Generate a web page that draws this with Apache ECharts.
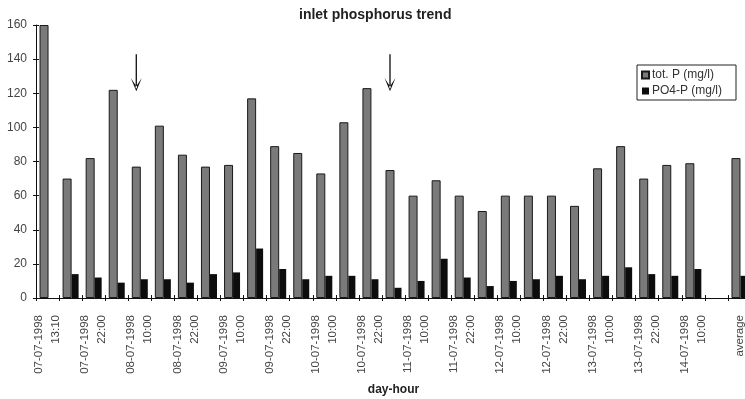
<!DOCTYPE html>
<html>
<head>
<meta charset="utf-8">
<script src="https://cdn.jsdelivr.net/npm/echarts@6/dist/echarts.min.js"></script>
<style>
  html, body { margin: 0; padding: 0; background: #fff; }
  #chart { width: 745px; height: 399px; }
</style>
</head>
<body>
<div id="chart"></div>
<script>
// categories (only every other one is labelled in the original)
const categories = [
  '07-07-1998\n13:10', '', '07-07-1998\n22:00', '', '08-07-1998\n10:00', '',
  '08-07-1998\n22:00', '', '09-07-1998\n10:00', '', '09-07-1998\n22:00', '',
  '10-07-1998\n10:00', '', '10-07-1998\n22:00', '', '11-07-1998\n10:00', '',
  '11-07-1998\n22:00', '', '12-07-1998\n10:00', '', '12-07-1998\n22:00', '',
  '13-07-1998\n10:00', '', '13-07-1998\n22:00', '', '14-07-1998\n10:00', '',
  'average'
];

const totP = [160, 70, 82, 122, 77, 101, 84, 77, 78, 117, 89, 85, 73, 103, 123,
  75, 60, 69, 60, 51, 60, 60, 60, 54, 76, 89, 70, 78, 79, null, 82];

const po4P = [null, 14, 12, 9, 11, 11, 9, 14, 15, 29, 17, 11, 13, 13, 11,
  6, 10, 23, 12, 7, 10, 11, 13, 11, 13, 18, 14, 13, 17, null, 13];

// arrows drawn above these categories
const arrowCats = [4, 15];
const arrowLevel = 132;

const yTicks = [0, 20, 40, 60, 80, 100, 120, 140, 160];

const chart = echarts.init(document.getElementById('chart'));

const arrowPath = 'path://M4.4,0 L5.6,0 L5.6,33 L4.4,33 Z M0,23 L5,36 L10,23 L5,31 Z';

const option = {
  animation: false,
  textStyle: { fontFamily: 'Liberation Sans, Arial, sans-serif' },
  title: {
    text: 'inlet phosphorus trend',
    left: 294,
    top: 3,
    textStyle: { fontSize: 14, fontWeight: 'bold', color: '#222' }
  },
  legend: {
    orient: 'vertical',
    left: 637,
    top: 65,
    padding: [4, 14, 3, 4],
    itemGap: 4,
    itemWidth: 7,
    itemHeight: 7,
    borderColor: '#222',
    borderWidth: 1,
    icon: 'rect',
    textStyle: { fontSize: 12, color: '#333', padding: [0, 0, 0, -2] },
    data: ['tot. P (mg/l)', 'PO4-P (mg/l)']
  },
  grid: {
    left: 36,
    right: -6,
    top: 25,
    bottom: 101,
    outerBoundsMode: 'none'
  },
  xAxis: [
    {
      type: 'category',
      data: categories,
      boundaryGap: true,
      axisLine: { lineStyle: { color: '#111', width: 1 } },
      axisTick: { show: true, interval: 0, length: 3, lineStyle: { color: '#111' } },
      axisLabel: {
        interval: 1,
        rotate: 90,
        fontSize: 11.5,
        lineHeight: 17,
        color: '#444',
        margin: 17
      },
      name: 'day-hour',
      nameLocation: 'middle',
      nameGap: 86,
      nameTextStyle: { fontSize: 12, fontWeight: 'bold', color: '#222' }
    },
    {
      type: 'category',
      data: categories,
      position: 'bottom',
      axisLine: { show: false },
      axisTick: { show: true, inside: true, interval: 0, length: 3, lineStyle: { color: '#111' } },
      axisLabel: { show: false }
    }
  ],
  yAxis: [
    {
      type: 'value',
      min: 0,
      max: 160,
      interval: 20,
      splitLine: { show: false },
      axisLine: { show: true, lineStyle: { color: '#111' } },
      axisTick: { show: true, length: 3, lineStyle: { color: '#111' } },
      axisLabel: {
        fontSize: 12,
        color: '#444',
        margin: 9,
        customValues: yTicks
      }
    },
    {
      type: 'value',
      min: 0,
      max: 160,
      interval: 20,
      position: 'left',
      splitLine: { show: false },
      axisLine: { show: false },
      axisTick: { show: true, inside: true, length: 3, lineStyle: { color: '#111' } },
      axisLabel: { show: false }
    }
  ],
  series: [
    {
      name: 'tot. P (mg/l)',
      type: 'bar',
      data: totP,
      barWidth: 9,
      barGap: '0%',
      itemStyle: { color: '#7a7a7a', borderColor: '#1a1a1a', borderWidth: 1 },
      markPoint: {
        symbol: arrowPath,
        symbolSize: [11, 37],
        silent: true,
        itemStyle: { color: '#111' },
        label: { show: false },
        data: arrowCats.map(i => ({ coord: [i, arrowLevel] }))
      }
    },
    {
      name: 'PO4-P (mg/l)',
      type: 'bar',
      data: po4P,
      barWidth: 7,
      barGap: '0%',
      itemStyle: { color: '#0d0d0d' }
    }
  ]
};

chart.setOption(option);
</script>
</body>
</html>
